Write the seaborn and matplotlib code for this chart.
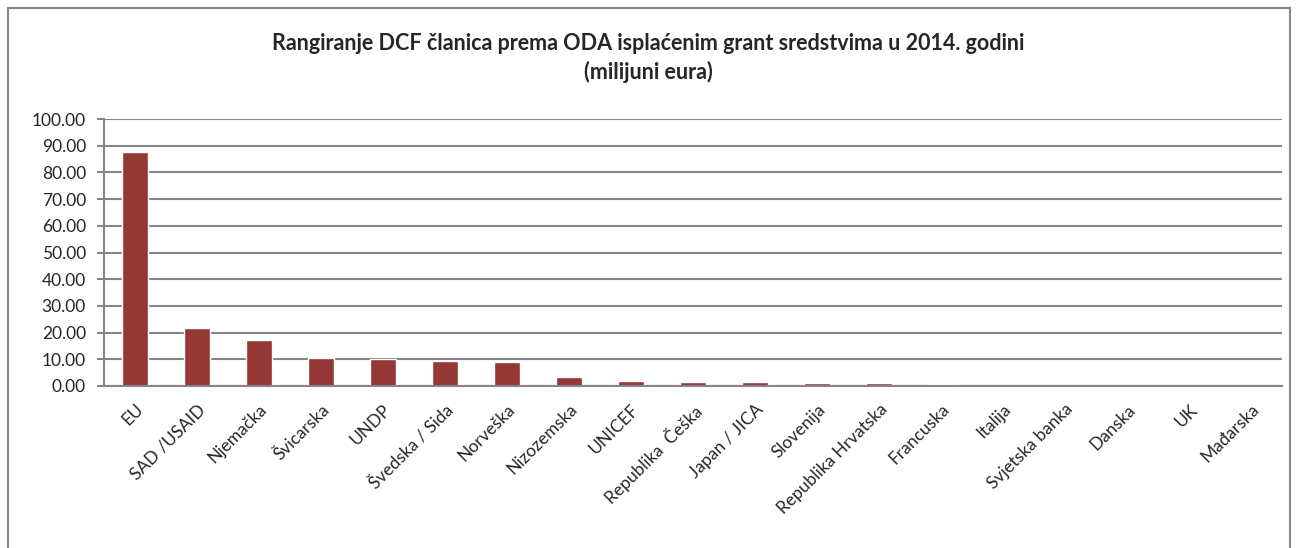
import matplotlib
matplotlib.use("Agg")
import matplotlib.pyplot as plt
import seaborn as sns
import pandas as pd
from matplotlib.patches import Rectangle

categories = ["EU", "SAD /USAID", "Njemačka", "Švicarska", "UNDP", "Švedska / Sida",
              "Norveška", "Nizozemska", "UNICEF", "Republika  Češka", "Japan / JICA",
              "Slovenija", "Republika Hrvatska", "Francuska", "Italija", "Svjetska banka",
              "Danska", "UK", "Mađarska"]
values = [87.5, 21.8, 17.3, 10.3, 10.1, 9.5, 9.1, 3.2, 2.0, 1.65, 1.5,
          1.0, 1.0, 0.6, 0.3, 0.3, 0.05, 0.03, 0.02]
yticks = [0, 10, 20, 30, 40, 50, 60, 70, 80, 90, 100]
title = "Rangiranje DCF članica prema ODA isplaćenim grant sredstvima u 2014. godini\n(milijuni eura)"

sns.set_theme(style="white")
plt.rcParams['font.family'] = ['Lato', 'DejaVu Sans']

df = pd.DataFrame({"cat": categories, "val": values})

fig = plt.figure(figsize=(12.96, 5.48), dpi=100)
ax = fig.add_axes([104/1296, 1 - 386/548, (1282-104)/1296, (386-119)/548])
sns.barplot(data=df, x="cat", y="val", color="#953735", saturation=1, width=0.41, ax=ax)

ax.set_ylim(0, 100)
ax.set_yticks(yticks)
ax.set_yticklabels([f"{v:.2f}" for v in yticks], fontsize=12.5)
ax.set_xlim(-0.5, len(categories) - 0.5)
ax.yaxis.grid(True, color="#868686", linewidth=1.5)
ax.set_axisbelow(True)
ax.set_xlabel("")
ax.set_ylabel("")
for s in ["top", "right"]:
    ax.spines[s].set_visible(False)
for s in ["left", "bottom"]:
    ax.spines[s].set_color("#868686")
    ax.spines[s].set_linewidth(1.5)
ax.tick_params(axis="y", which="both", left=True, length=5, width=1.5, color="#868686", pad=8)
ax.tick_params(axis="x", bottom=False, pad=5)
plt.setp(ax.get_xticklabels(), rotation=45, ha="right", rotation_mode="anchor", fontsize=12.5)

fig.text(0.5, 1 - 58/548, title, ha="center", va="center",
         fontsize=15.5, fontweight="bold", linespacing=1.4)

fig.patches.append(Rectangle((8/1296, -0.1), (1290-8)/1296, 1.1 - 8/548, transform=fig.transFigure,
                             fill=False, edgecolor="#868686", linewidth=1.5))

fig.savefig("out.png", dpi=100, facecolor="white")
